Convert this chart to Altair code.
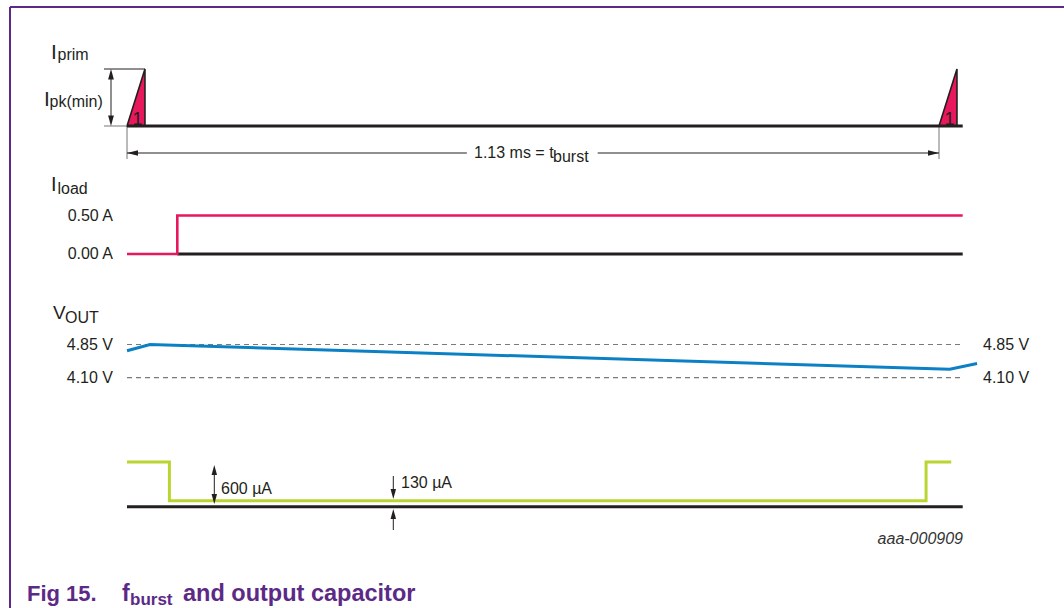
import altair as alt
import pandas as pd

FONT = "Liberation Sans"
INK = "#231f20"
PURPLE = "#5c2a86"
CRIMSON = "#e8185c"
BLUE = "#0c80c4"
LIME = "#b9d532"
GREY = "#8c8c8c"
DASH = "#7a7a7a"
LABEL = 16

# ---- time axis (ms) ----
T_BURST = 1.13      # burst period
T_END = 1.163       # right end of the reference lines
PULSE_W = 0.025     # width of one primary current pulse

# primary current pulses, normalised to Ipk(min)
prim_pulse = ["first", "first", "second", "second"]
prim_t = [0.0, 0.025, 1.13, 1.155]
prim_i = [0.0, 1.0, 0.0, 1.0]
pulse_starts = [0.0, 1.13]

# load current step (A)
load_t = [0.0, 0.07, 0.07, 1.163]
load_i = [0.0, 0.0, 0.5, 0.5]
load_levels = [0.5, 0.0]
load_labels = ["0.50 A", "0.00 A"]

# output voltage (V)
vout_t = [0.0, 0.032, 1.145, 1.183]
vout_v = [4.71, 4.85, 4.29, 4.42]
vout_levels = [4.85, 4.10]
vout_labels = ["4.85 V", "4.10 V"]

# supply current (µA)
icc_t = [0.0, 0.059, 0.059, 1.112, 1.112, 1.147]
icc_ua = [600, 600, 130, 130, 600, 600]

# ---- scales: each trace gets its own vertical band ----
X = alt.Scale(domain=[0, T_BURST], range=[127, 939], nice=False, zero=False)
Y_PRIM = alt.Scale(domain=[0, 1], range=[126, 69], nice=False, zero=True)
Y_LOAD = alt.Scale(domain=[0, 0.5], range=[254, 215.5], nice=False, zero=False)
Y_VOUT = alt.Scale(domain=[4.10, 4.85], range=[377.7, 344.5], nice=False, zero=False)
Y_ICC = alt.Scale(domain=[0, 130, 600], range=[506.7, 500.7, 462], nice=False, zero=False)

ONE = pd.DataFrame({"k": [0]})

UP = "M0,0L0.55,2L-0.55,2Z"
DOWN = "M0,0L0.55,-2L-0.55,-2Z"
LEFT = "M0,0L2,0.5L2,-0.5Z"
RIGHT = "M0,0L-2,0.5L-2,-0.5Z"


def xq(field):
    return alt.X(f"{field}:Q", scale=X, axis=None)


def text(s, x, y, size=LABEL, align="left", baseline="alphabetic",
         color=INK, weight="normal", style="normal"):
    return alt.Chart(ONE).mark_text(
        text=s, font=FONT, fontSize=size, align=align, baseline=baseline,
        color=color, fontWeight=weight, fontStyle=style,
    ).encode(x=alt.value(x), y=alt.value(y))


def seg(x1, y1, x2, y2, color=INK, width=1.0, dash=None):
    kw = dict(color=color, strokeWidth=width)
    if dash:
        kw["strokeDash"] = dash
    return alt.Chart(ONE).mark_rule(**kw).encode(
        x=alt.value(x1), y=alt.value(y1), x2=alt.value(x2), y2=alt.value(y2))


def head(shape, x, y, size=110):
    return alt.Chart(ONE).mark_point(
        shape=shape, filled=True, size=size, color=INK, opacity=1, strokeWidth=0
    ).encode(x=alt.value(x), y=alt.value(y))


layers = []

# ---- frame ----
layers += [
    seg(10, 7, 10, 608, color=PURPLE, width=2),
    seg(10, 7, 1064, 7, color=PURPLE, width=2),
]

# ---- I_prim ----
prim_df = pd.DataFrame({"pulse": prim_pulse, "t": prim_t, "i": prim_i})
starts_df = pd.DataFrame({"t": pulse_starts})
ends_df = pd.DataFrame({"t": [0.0], "t2": [T_END]})

pulse_layers = [
    alt.Chart(prim_df[prim_df["pulse"] == p]).mark_area(
        color=CRIMSON, stroke=INK, strokeWidth=1.6, opacity=1,
        orient="vertical", strokeJoin="miter").encode(
        x=alt.X("t:Q", scale=X, axis=None, stack=None),
        y=alt.Y("i:Q", scale=Y_PRIM, axis=None, stack=None))
    for p in dict.fromkeys(prim_pulse)
]

layers += [
    alt.Chart(starts_df).mark_rule(color=GREY, strokeWidth=1.2).encode(
        x=xq("t"), y=alt.value(126), y2=alt.value(159)),
    *pulse_layers,
    alt.Chart(ends_df).mark_rule(color=INK, strokeWidth=3).encode(
        x=xq("t"), x2="t2:Q", y=alt.value(126)),
    alt.Chart(starts_df.assign(tc=starts_df["t"] + 0.58 * PULSE_W)).mark_text(
        text="1", font=FONT, fontSize=18, color=INK, align="center",
        baseline="alphabetic").encode(
        x=alt.X("tc:Q", scale=X, axis=None), y=alt.value(125)),
    text("I", 51, 58.5, size=21),
    text("prim", 57.5, 59.5),
    text("I", 44, 106, size=21),
    text("pk(min)", 49.5, 106.5),
    # Ipk(min) dimension
    seg(104, 69, 145, 69, color=INK, width=1),
    seg(104, 126, 127, 126, color=GREY, width=1.2),
    seg(111, 75, 111, 120, color=INK, width=1),
    head(UP, 111, 69),
    head(DOWN, 111, 126),
]

# burst period dimension line
gap_df = pd.DataFrame({"a": [0.0, 0.655], "b": [0.473, T_BURST]})
layers += [
    alt.Chart(gap_df).mark_rule(color=INK, strokeWidth=1).encode(
        x=xq("a"), x2="b:Q", y=alt.value(153)),
    head(LEFT, 127, 153, size=121),
    head(RIGHT, 939, 153, size=121),
    text("1.13 ms = t", 474, 157.5),
    text("burst", 553, 161.5),
]

# ---- I_load ----
load_df = pd.DataFrame({"t": load_t, "i": load_i, "o": range(len(load_t))})
load_lab = pd.DataFrame({"v": load_levels, "lab": load_labels})
layers += [
    alt.Chart(pd.DataFrame({"t": [0.07], "t2": [T_END]})).mark_rule(
        color=INK, strokeWidth=3).encode(x=xq("t"), x2="t2:Q", y=alt.value(254)),
    alt.Chart(load_df).mark_line(color=CRIMSON, strokeWidth=2.6).encode(
        x=xq("t"), y=alt.Y("i:Q", scale=Y_LOAD, axis=None), order="o:Q"),
    alt.Chart(load_lab).mark_text(font=FONT, fontSize=LABEL, color=INK,
                                  align="right", baseline="middle").encode(
        x=alt.value(113), y=alt.Y("v:Q", scale=Y_LOAD, axis=None), text="lab:N"),
    text("I", 51, 191, size=20),
    text("load", 57.5, 194),
]

# ---- V_OUT ----
vout_df = pd.DataFrame({"t": vout_t, "v": vout_v})
vlev = pd.DataFrame({"v": vout_levels, "lab": vout_labels, "t": 0.0, "t2": T_END})
layers += [
    alt.Chart(vlev).mark_rule(color=DASH, strokeWidth=1.2, strokeDash=[5, 4]).encode(
        x=xq("t"), x2="t2:Q", y=alt.Y("v:Q", scale=Y_VOUT, axis=None)),
    alt.Chart(vout_df).mark_line(color=BLUE, strokeWidth=3).encode(
        x=xq("t"), y=alt.Y("v:Q", scale=Y_VOUT, axis=None), order="t:Q"),
    alt.Chart(vlev).mark_text(font=FONT, fontSize=LABEL, color=INK,
                              align="right", baseline="middle").encode(
        x=alt.value(113), y=alt.Y("v:Q", scale=Y_VOUT, axis=None), text="lab:N"),
    alt.Chart(vlev).mark_text(font=FONT, fontSize=LABEL, color=INK,
                              align="left", baseline="middle").encode(
        x=alt.value(983), y=alt.Y("v:Q", scale=Y_VOUT, axis=None), text="lab:N"),
    text("V", 53, 319, size=19),
    text("OUT", 65, 323),
]

# ---- supply current ----
icc_df = pd.DataFrame({"t": icc_t, "ua": icc_ua, "o": range(len(icc_t))})
layers += [
    alt.Chart(pd.DataFrame({"t": [0.0], "t2": [T_END]})).mark_rule(
        color=INK, strokeWidth=3).encode(x=xq("t"), x2="t2:Q", y=alt.value(506.7)),
    alt.Chart(icc_df).mark_line(color=LIME, strokeWidth=3).encode(
        x=xq("t"), y=alt.Y("ua:Q", scale=Y_ICC, axis=None), order="o:Q"),
    # 600 µA
    seg(214.3, 470, 214.3, 499, color=INK, width=1),
    head(UP, 214.3, 465, size=100),
    head(DOWN, 214.3, 504, size=100),
    text("600 µA", 221, 489, baseline="middle"),
    # 130 µA
    seg(393.3, 476, 393.3, 492, color=INK, width=1),
    head(DOWN, 393.3, 499, size=100),
    seg(393.3, 516, 393.3, 530, color=INK, width=1),
    head(UP, 393.3, 509, size=100),
    text("130 µA", 401, 483, baseline="middle"),
    text("aaa-000909", 963, 539, align="right", baseline="middle",
         color="#333333", style="italic"),
]

# ---- caption ----
layers += [
    text("Fig 15.", 27, 601, size=22, weight="bold", color=PURPLE),
    text("f", 122, 601, size=23, weight="bold", color=PURPLE),
    text("burst", 130, 605, size=17, weight="bold", color=PURPLE),
    text("and output capacitor", 183, 601, size=23.5, weight="bold", color=PURPLE),
]

chart = alt.layer(*layers).resolve_scale(y="independent").properties(
    width=1064, height=608, padding=0, autosize="none", background="white"
).configure_view(stroke=None)

chart.save("out.html", embed_options={"renderer": "svg", "actions": False})
